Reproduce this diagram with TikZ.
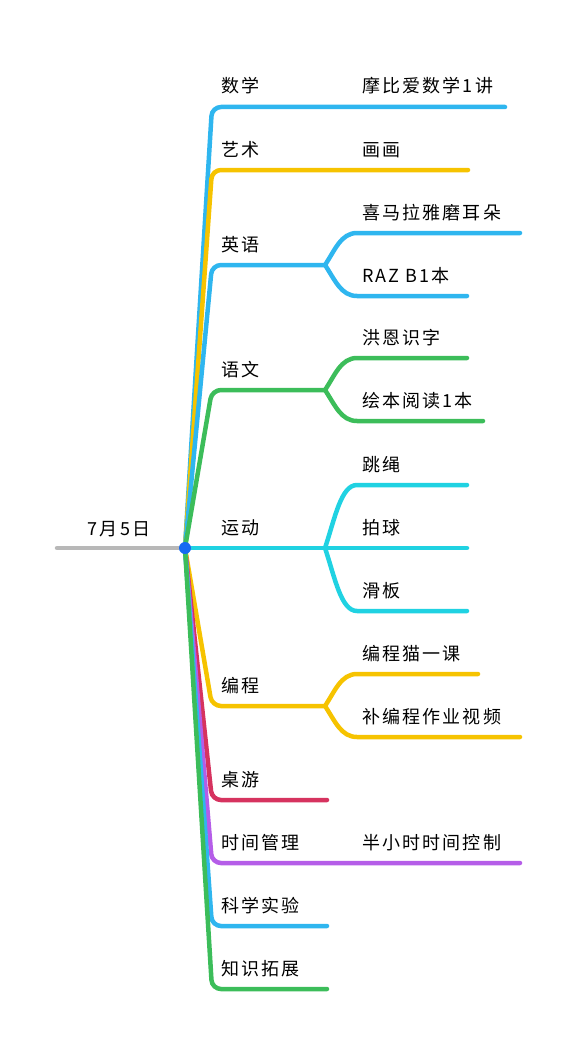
\documentclass[tikz,border=0pt]{standalone}
\usepackage{fontspec}
\newfontfamily\cjk[LetterSpace=12]{Noto Sans CJK SC}
\usetikzlibrary{calc, positioning}
\definecolor{skyBlue}{HTML}{2FB6EF}
\definecolor{sunYellow}{HTML}{F6C300}
\definecolor{grassGreen}{HTML}{3CBD5A}
\definecolor{aquaCyan}{HTML}{20D2E2}
\definecolor{roseRed}{HTML}{D6335F}
\definecolor{lilacPurple}{HTML}{B55DE8}
\definecolor{rootGray}{HTML}{B8B8B8}
\definecolor{dotBlue}{HTML}{1669F2}

\begin{document}
\begin{tikzpicture}[
    x=1pt, y=-1pt,
    lbl/.style={font=\cjk\fontsize{18}{18}\selectfont, inner sep=0pt, anchor=base west},
    branch/.style={line width=4.5pt, line cap=round, rounded corners=9pt},
    leaf/.style={line width=4.5pt, line cap=round}
  ]
  \useasboundingbox (0,0) rectangle (576,1046);

  % Root
  \coordinate (root) at (185,548);
  \coordinate (rootL) at (57,548);
  \node[lbl, anchor=base] (rootT) at (119,535) {7月5日};
  \draw[leaf, rootGray] (rootL) -- (root);

  % Topic corners
  \coordinate (shuxue) at (212,107);
  \coordinate (yishu) at (212,170);
  \coordinate (yingyu) at (212,265);
  \coordinate (yuwen) at (212,390);
  \coordinate (yundong) at (185,548);
  \coordinate (biancheng) at (212,706);
  \coordinate (zhuoyou) at (212,800);
  \coordinate (shijian) at (212,863);
  \coordinate (kexue) at (212,926);
  \coordinate (zhishi) at (212,989);

  % Split points
  \coordinate (yingyuS) at (325,265);
  \coordinate (yuwenS) at (325,390);
  \coordinate (yundongS) at (325,548);
  \coordinate (bianchengS) at (325,706);

  % Child starts and ends
  \coordinate (mobi) at (505,107);
  \coordinate (huahua) at (468,170);
  \coordinate (ximaA) at (357,233);  \coordinate (xima) at (520,233);
  \coordinate (razA) at (357,296);   \coordinate (raz) at (467,296);
  \coordinate (hongenA) at (357,358);\coordinate (hongen) at (467,358);
  \coordinate (huibenA) at (357,421);\coordinate (huiben) at (483,421);
  \coordinate (tiaoA) at (357,485);  \coordinate (tiao) at (467,485);
  \coordinate (paiqiu) at (467,548);
  \coordinate (huaA) at (357,611);   \coordinate (huaban) at (467,611);
  \coordinate (maoA) at (357,674);   \coordinate (mao) at (478,674);
  \coordinate (buA) at (357,737);    \coordinate (bu) at (520,737);
  \coordinate (zhuoyouE) at (327,800);
  \coordinate (banxiao) at (520,863);
  \coordinate (kexueE) at (327,926);
  \coordinate (zhishiE) at (327,989);

  % Branches
  \draw[branch, skyBlue] (root) -- (shuxue) -- (mobi);
  \draw[branch, sunYellow] (root) -- (yishu) -- (huahua);
  \draw[branch, skyBlue] (root) -- (yingyu) -- (yingyuS);
  \draw[leaf, skyBlue] (yingyuS) .. controls +(10,-15) and +(-16,0) .. (ximaA) -- (xima);
  \draw[leaf, skyBlue] (yingyuS) .. controls +(10,15) and +(-16,0) .. (razA) -- (raz);
  \draw[branch, grassGreen] (root) -- (yuwen) -- (yuwenS);
  \draw[leaf, grassGreen] (yuwenS) .. controls +(10,-15) and +(-16,0) .. (hongenA) -- (hongen);
  \draw[leaf, grassGreen] (yuwenS) .. controls +(10,15) and +(-16,0) .. (huibenA) -- (huiben);
  \draw[leaf, aquaCyan] (yundong) -- (yundongS) -- (paiqiu);
  \draw[leaf, aquaCyan] (yundongS) .. controls +(10,-30) and +(-16,0) .. (tiaoA) -- (tiao);
  \draw[leaf, aquaCyan] (yundongS) .. controls +(10,30) and +(-16,0) .. (huaA) -- (huaban);
  \draw[branch, sunYellow] (root) -- (biancheng) -- (bianchengS);
  \draw[leaf, sunYellow] (bianchengS) .. controls +(10,-15) and +(-16,0) .. (maoA) -- (mao);
  \draw[leaf, sunYellow] (bianchengS) .. controls +(10,15) and +(-16,0) .. (buA) -- (bu);
  \draw[branch, roseRed] (root) -- (zhuoyou) -- (zhuoyouE);
  \draw[branch, lilacPurple] (root) -- (shijian) -- (banxiao);
  \draw[branch, skyBlue] (root) -- (kexue) -- (kexueE);
  \draw[branch, grassGreen] (root) -- (zhishi) -- (zhishiE);
  \node[circle, fill=dotBlue, inner sep=0pt, minimum size=12pt] (rootDot) at (root) {};

  % Topic labels
  \node[lbl] (shuxueT) at ($(shuxue)+(9,-14)$) {数学};
  \node[lbl] (yishuT) at ($(yishu)+(9,-14)$) {艺术};
  \node[lbl] (yingyuT) at ($(yingyu)+(9,-14)$) {英语};
  \node[lbl] (yuwenT) at ($(yuwen)+(9,-14)$) {语文};
  \node[lbl] (yundongT) at ($(yundong)+(36,-14)$) {运动};
  \node[lbl] (bianchengT) at ($(biancheng)+(9,-14)$) {编程};
  \node[lbl] (zhuoyouT) at ($(zhuoyou)+(9,-14)$) {桌游};
  \node[lbl] (shijianT) at ($(shijian)+(9,-14)$) {时间管理};
  \node[lbl] (kexueT) at ($(kexue)+(9,-14)$) {科学实验};
  \node[lbl] (zhishiT) at ($(zhishi)+(9,-14)$) {知识拓展};

  % Child labels
  \node[lbl] (mobiT) at (362,93) {摩比爱数学1讲};
  \node[lbl] (huahuaT) at (362,156) {画画};
  \node[lbl] (ximaT) at ($(ximaA)+(5,-14)$) {喜马拉雅磨耳朵};
  \node[lbl] (razT) at ($(razA)+(5,-14)$) {RAZ B1本};
  \node[lbl] (hongenT) at ($(hongenA)+(5,-14)$) {洪恩识字};
  \node[lbl] (huibenT) at ($(huibenA)+(5,-14)$) {绘本阅读1本};
  \node[lbl] (tiaoT) at ($(tiaoA)+(5,-14)$) {跳绳};
  \node[lbl] (paiqiuT) at (362,534) {拍球};
  \node[lbl] (huabanT) at ($(huaA)+(5,-14)$) {滑板};
  \node[lbl] (maoT) at ($(maoA)+(5,-14)$) {编程猫一课};
  \node[lbl] (buT) at ($(buA)+(5,-14)$) {补编程作业视频};
  \node[lbl] (banxiaoT) at (362,849) {半小时时间控制};
\end{tikzpicture}
\end{document}
